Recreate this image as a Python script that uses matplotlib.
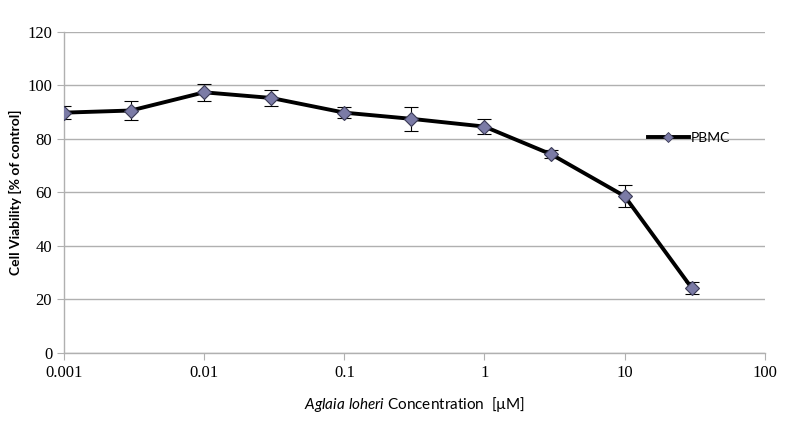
import numpy as np
import matplotlib
matplotlib.use("Agg")
import matplotlib.pyplot as plt
from matplotlib.ticker import FixedLocator, FixedFormatter, NullLocator
from matplotlib.lines import Line2D

# data
conc = [0.001, 0.003, 0.01, 0.03, 0.1, 0.3, 1, 3, 10, 30]
viability = [89.8, 90.6, 97.4, 95.3, 89.8, 87.5, 84.6, 74.2, 58.6, 24.4]
err = [2.5, 3.5, 3.2, 3.0, 2.0, 4.6, 2.7, 1.5, 4.0, 2.2]
xticks = [0.001, 0.01, 0.1, 1, 10, 100]
xtick_labels = ["0.001", "0.01", "0.1", "1", "10", "100"]
yticks = [0, 20, 40, 60, 80, 100, 120]

plt.rcParams["font.family"] = ["Lato", "DejaVu Sans"]
plt.rcParams["mathtext.fontset"] = "custom"
plt.rcParams["mathtext.it"] = "Lato:italic"
plt.rcParams["mathtext.rm"] = "Lato"

grid_color = "#b0b0b0"
face = "#7b7ba6"
edge = "#3a3a55"

fig = plt.figure(figsize=(8, 4.3), dpi=100)
ax = fig.add_axes([0.08, 0.179, 0.876, 0.747])

ax.errorbar(conc, viability, yerr=err, color="black", ecolor="black",
            elinewidth=0.8, capsize=5, capthick=0.8, lw=2.8,
            marker="D", markersize=7, markerfacecolor=face,
            markeredgecolor=edge, markeredgewidth=0.8, zorder=3)

ax.set_xscale("log")
ax.set_xlim(0.001, 100)
ax.set_ylim(0, 120)
ax.xaxis.set_major_locator(FixedLocator(xticks))
ax.xaxis.set_major_formatter(FixedFormatter(xtick_labels))
ax.xaxis.set_minor_locator(NullLocator())
ax.set_yticks(yticks)

ax.yaxis.grid(True, color=grid_color, lw=1.0)
ax.set_axisbelow(True)
for s in ["top", "right"]:
    ax.spines[s].set_visible(False)
for s in ["left", "bottom"]:
    ax.spines[s].set_color(grid_color)
    ax.spines[s].set_linewidth(1.0)

ax.tick_params(axis="both", direction="out", length=5, color=grid_color)
for lab in ax.get_xticklabels() + ax.get_yticklabels():
    lab.set_fontfamily("Liberation Serif")
    lab.set_fontsize(12)

ax.set_ylabel("Cell Viability [% of control]", fontsize=10, fontweight="bold")
ax.yaxis.set_label_coords(-0.06, 0.5)
ax.set_xlabel(r"$\it{Aglaia\ loheri}$ Concentration  [µM]", fontsize=11,
              labelpad=10)

handle = Line2D([0], [0], color="black", lw=2.8, marker="D", markersize=5,
                markerfacecolor=face, markeredgecolor=edge, markeredgewidth=0.6)
ax.legend(handles=[handle], labels=["PBMC"], loc="center left",
          bbox_to_anchor=(0.815, 0.67), frameon=False, fontsize=10,
          handlelength=3.0, handletextpad=0.1)

fig.savefig("out.png", dpi=100)
